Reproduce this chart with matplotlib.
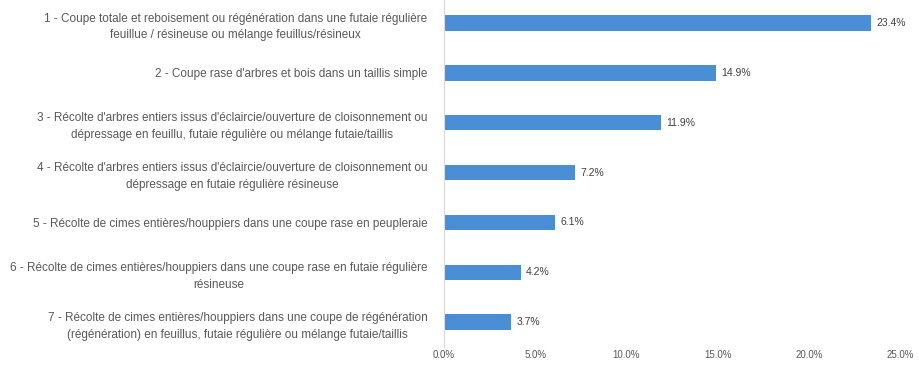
import matplotlib
matplotlib.use("Agg")
import matplotlib.pyplot as plt
from matplotlib.ticker import FuncFormatter

plt.rcParams['font.family'] = ['Liberation Sans', 'DejaVu Sans']

# Types de coupes / récoltes et part de chaque modalité
categories = [
    "1 - Coupe totale et reboisement ou régénération dans une futaie régulière\n"
    "feuillue / résineuse ou mélange feuillus/résineux",
    "2 - Coupe rase d'arbres et bois dans un taillis simple",
    "3 - Récolte d'arbres entiers issus d'éclaircie/ouverture de cloisonnement ou\n"
    "dépressage en feuillu, futaie régulière ou mélange futaie/taillis",
    "4 - Récolte d'arbres entiers issus d'éclaircie/ouverture de cloisonnement ou\n"
    "dépressage en futaie régulière résineuse",
    "5 - Récolte de cimes entières/houppiers dans une coupe rase en peupleraie",
    "6 - Récolte de cimes entières/houppiers dans une coupe rase en futaie régulière\n"
    "résineuse",
    "7 - Récolte de cimes entières/houppiers dans une coupe de régénération\n"
    "(régénération) en feuillus, futaie régulière ou mélange futaie/taillis",
]
values = [23.4, 14.9, 11.9, 7.2, 6.1, 4.2, 3.7]
xticks = [0, 5, 10, 15, 20, 25]

fig = plt.figure(figsize=(9.2, 3.76), dpi=100)
ax = fig.add_axes([0.4826, 0.077, 0.4957, 0.928])

ypos = list(range(len(categories)))
bars = ax.barh(ypos, values, height=0.31, color='#4A8FD6')

for y, v in zip(ypos, values):
    ax.text(v + 0.3, y, f"{v:.1f}%", va='center', ha='left',
            fontsize=7.5, color='#404040')

ax.set_xlim(0, 25)
ax.set_ylim(len(categories) - 0.5, -0.5)
ax.set_xticks(xticks)
ax.xaxis.set_major_formatter(FuncFormatter(lambda x, _: f"{x:.1f}%"))
ax.set_yticks(ypos)
ax.set_yticklabels(categories)
for lbl in ax.get_yticklabels():
    lbl.set_multialignment('center')
    lbl.set_linespacing(1.55)

ax.tick_params(axis='x', length=0, labelsize=7, labelcolor='#595959', pad=2)
ax.tick_params(axis='y', length=0, labelsize=8.5, labelcolor='#595959', pad=12)

for side in ['top', 'right', 'bottom']:
    ax.spines[side].set_visible(False)
ax.spines['left'].set_color('#d9d9d9')

fig.savefig("out.png", dpi=100)
